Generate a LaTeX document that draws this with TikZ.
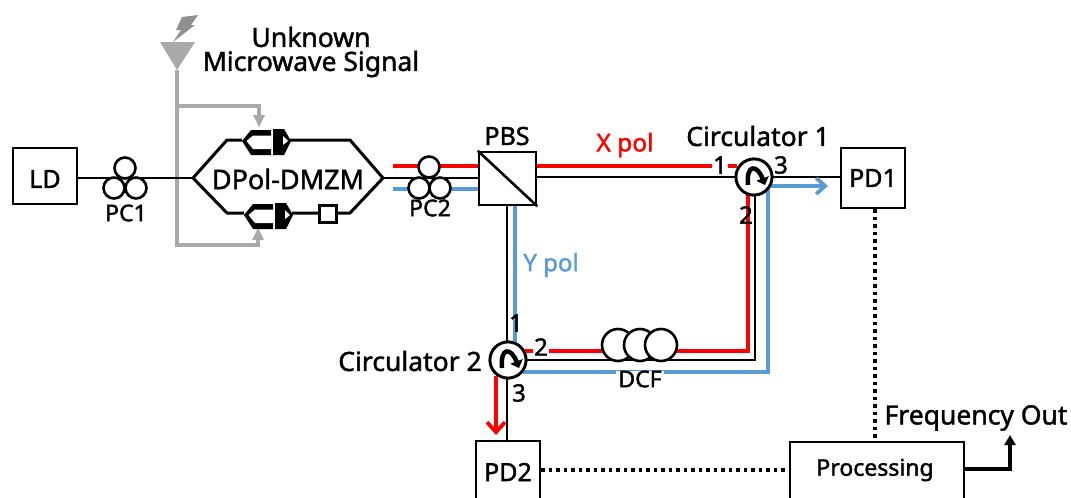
\documentclass[tikz,border=0pt]{standalone}
\usepackage{fontspec}
\setmainfont[FakeBold=1.6,AutoFakeBold=1.6]{Noto Sans}
\usetikzlibrary{arrows.meta}

\definecolor{redPol}{HTML}{FF0000}
\definecolor{bluePol}{HTML}{5B9BD5}
\definecolor{greyRf}{HTML}{A9A9A9}

\tikzset{
    fibre/.style={line width=2.8pt, black},
    polred/.style={line width=3.8pt, redPol},
    polblue/.style={line width=3.8pt, bluePol},
    rfline/.style={line width=3.4pt, greyRf},
    dotline/.style={line width=3.2pt, dash pattern=on 3.5pt off 4pt},
    devbox/.style={draw, line width=2.6pt, fill=white, inner sep=0pt},
    pcloop/.style={draw, circle, line width=2.6pt, fill=white, inner sep=0pt, minimum size=21pt},
    dcfloop/.style={draw, circle, line width=2.6pt, fill=white, inner sep=0pt, minimum size=32pt},
    circbody/.style={draw, circle, line width=2.8pt, fill=white, inner sep=0pt, minimum size=36pt},
    lbl/.style={inner sep=0pt, font=\fontsize{#1}{#1}\selectfont\bfseries},
    lbl/.default=20,
}

\begin{document}
\begin{tikzpicture}[x=1pt, y=-1pt]
    \useasboundingbox (0,0) rectangle (1071,498);

    % Free ends of the polarisation lines
    \coordinate (redStart) at (393,166);
    \coordinate (blueStart) at (393,189);
    \coordinate (rfTop) at (177,70);
    \coordinate (rfBottom) at (177,245);
    \coordinate (rfUpper) at (177,106);
    \coordinate (redCornerA) at (748,351);
    \coordinate (blackCorner) at (755,360);
    \coordinate (blueCorner) at (768,372);

    % Devices
    \node[devbox, minimum width=64pt, minimum height=56pt] (ld) at (45,176) {};
    \node[devbox, minimum width=57pt, minimum height=53pt] (pbs) at (507.5,178.5) {};
    \node[devbox, minimum width=64pt, minimum height=60pt] (pd1) at (873,178) {};
    \node[devbox, minimum width=64pt, minimum height=60pt] (pd2) at (508,471) {};
    \node[devbox, minimum width=174pt, minimum height=60pt] (proc) at (877,472) {};
    \node[circbody] (circA) at (754,177) {};
    \node[circbody] (circB) at (508,360) {};

    % Microwave feed
    \draw[rfline] (rfTop) -- (rfBottom) -- (258,245) -- (258,238);
    \draw[rfline] (rfUpper) -- (259,106) -- (259,115);
    \fill[greyRf] (259,127) -- (253,115) -- (265,115) -- cycle;
    \fill[greyRf] (258,228) -- (252,240) -- (264,240) -- cycle;
    \fill[greyRf] (160,42) -- (195,42) -- (177,70) -- cycle;
    \fill[greyRf!85!black] (182,17) -- (198,15) -- (191,25) -- (195,25) -- (173,42) -- (181,30) -- (176,30) -- cycle;

    % Black fibre path
    \draw[fibre] (ld.east |- 0,178) -- (193,178);
    \draw[fibre] (383,178) -- (pbs.west |- 0,178);
    \draw[fibre] (pbs.east |- circA) -- (circA);
    \draw[fibre] (circA) -- (pd1.west |- circA);
    \draw[fibre] (pbs.south -| 507,0) -- (507,342);
    \draw[fibre] (circB.south -| 507,0) -- (pd2.north -| 507,0);
    \draw[fibre] (circB) -- (blackCorner) -- (755,195);

    % Modulator body
    \draw[line width=3pt, line join=round] (193,178) -- (227,140) -- (350,140) -- (383,178) -- (350,213) -- (227,213) -- cycle;
    \foreach \y/\dx in {140/0,214/2} {
        \begin{scope}[shift={(\dx,\y)}]
            \fill[white] (242,-6) rectangle (290,10);
            \fill (242,1) -- (251,-10) -- (271,-10) -- (271,15) -- (251,15) -- cycle;
            \fill[white] (246.5,1) -- (253,-4.5) -- (271.5,-4.5) -- (271.5,9) -- (253,9) -- cycle;
            \fill (273,-11) -- (284,-11) -- (291,1) -- (284,15) -- (273,15) -- cycle;
            \fill[white] (283,-4) -- (288,1) -- (283,5) -- cycle;
        \end{scope}
    }
    \node[devbox, minimum size=17pt] (phase) at (328,214) {};
    \node[lbl=27] (dpol) at (288,179) {DPol-DMZM};

    % Polarisation lines
    \draw[polred] (redStart) -- (pbs.west |- redStart);
    \draw[polblue] (blueStart) -- (pbs.west |- blueStart);
    \draw[polred] (pbs.east |- redStart) -- (737,166);
    \draw[polblue] (515,206) -- (515,345);
    \draw[polred] (748,194) -- (redCornerA) -- (525,351);
    \draw[polblue] (768,186) -- (blueCorner) -- (523,372);
    \draw[polblue, -{Straight Barb[length=9pt,width=16pt]}] (768,186) -- (828,186);
    \draw[polred, -{Straight Barb[length=10pt,width=18pt]}] (496,376) -- (496,435);

    % Polarisation controllers
    \node[pcloop] (pcAtop) at (125,168) {};
    \node[pcloop] (pcAleft) at (114,188) {};
    \node[pcloop] (pcAright) at (136,188) {};
    \node[pcloop] (pcBtop) at (429,167) {};
    \node[pcloop] (pcBleft) at (419,188) {};
    \node[pcloop] (pcBright) at (440,188) {};

    % Compensating fibre spool
    \foreach \x/\nm in {618/a,640/b,661/c}
        \node[dcfloop] (dcf\nm) at (\x,345) {};

    % Redraw devices above the lines
    \node[circbody] at (circA) {};
    \node[circbody] at (circB) {};
    \foreach \c in {circA,circB} {
        \draw[line width=4.5pt, -{Triangle[length=7pt,width=13pt]}] ([shift={(-6,8)}]\c.center) .. controls ([shift={(-8,-13)}]\c.center) and ([shift={(3,-13)}]\c.center) .. ([shift={(11,8)}]\c.center);
    }
    \draw[line width=2.6pt] (pbs.north west) -- (pbs.south east);

    % Monitoring connections
    \draw[dotline] (pd1.south -| 875,0) -- (proc.north -| 875,0);
    \draw[dotline] (pd2.east |- 0,470) -- (proc.west |- 0,470);
    \coordinate (outTip) at (1010,435);
    \draw[line width=3.2pt, -{Triangle[length=10pt,width=11pt]}] (proc.east |- 0,469) -- (1010,469) -- (outTip);

    % Labels
    \node[lbl=25] (ldText) at (45,179) {LD};
    \node[lbl=25] (pdAText) at (873,178) {PD1};
    \node[lbl=25] (pdBText) at (508,472) {PD2};
    \node[lbl=23] (procText) at (875,470) {Processing};
    \node[lbl=23] (pcAText) at (126,213) {PC1};
    \node[lbl=23] (pcBText) at (430,208) {PC2};
    \node[lbl=25] (pbsText) at (507,136) {PBS};
    \node[lbl=26.5, align=center] (rfText) at (311,52) {Unknown\\[-2.5pt]Microwave Signal};
    \node[lbl=24.5, text=redPol] (xText) at (625,145) {X pol};
    \node[lbl=24, text=bluePol] (yText) at (551,265) {Y pol};
    \node[lbl=26.5] (circAText) at (758,136) {Circulator 1};
    \node[lbl=26.5] (circBText) at (410,361) {Circulator 2};
    \node[lbl=26.5] (freqText) at (976,418) {Frequency Out};
    \node[lbl=23, fill=white, inner xsep=2pt] (dcfText) at (640,379) {DCF};
    \node[lbl=24, fill=white, inner xsep=1pt] (portAa) at (720,165) {1};
    \node[lbl=24] (portAb) at (746,215) {2};
    \node[lbl=24] (portAc) at (781,165) {3};
    \node[lbl=24] (portBa) at (516,323) {1};
    \node[lbl=24, fill=white, inner xsep=1pt] (portBb) at (541,347) {2};
    \node[lbl=24] (portBc) at (519,393) {3};
\end{tikzpicture}
\end{document}
